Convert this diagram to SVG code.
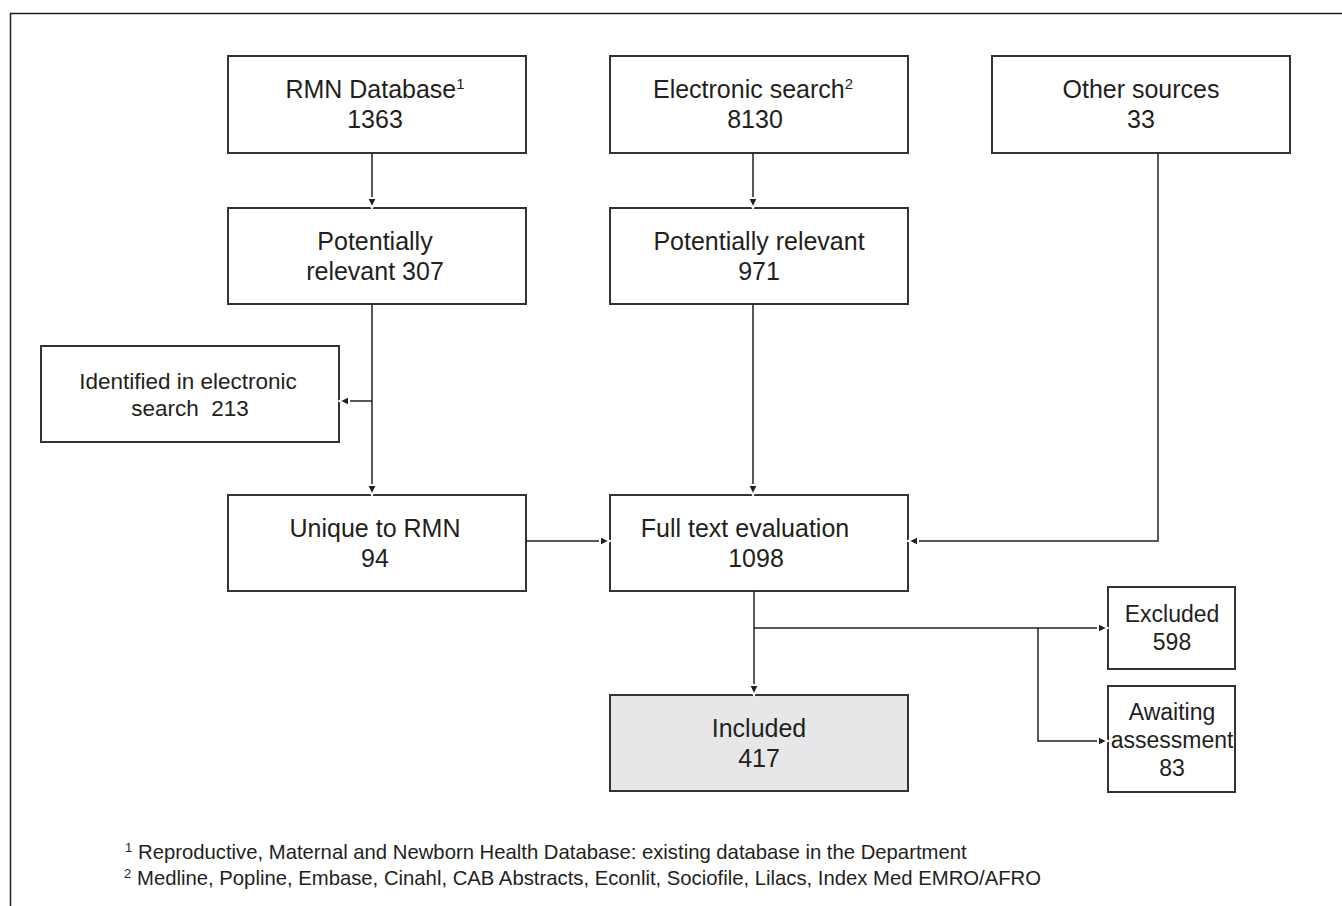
<svg xmlns="http://www.w3.org/2000/svg" width="1342" height="906" viewBox="0 0 1342 906">
<defs>
<style>
.box{fill:#fff;stroke:#333;stroke-width:2}
.inc{fill:#e6e7e8;stroke:#333;stroke-width:2}
.t{font-family:"Liberation Sans",Arial,sans-serif;font-size:25px;fill:#231f20;text-anchor:middle}
.s{font-size:22.5px}
.m{font-size:23px}
.fn{font-family:"Liberation Sans",Arial,sans-serif;font-size:20.3px;fill:#231f20}
.c{fill:none;stroke:#231f20;stroke-width:1.5}
</style>
<marker id="ah" viewBox="0 0 14 14" refX="12" refY="7" markerWidth="14" markerHeight="14" markerUnits="userSpaceOnUse" orient="auto">
<path d="M2,2 L12,7 L2,12 Z" fill="#231f20" stroke="#fff" stroke-width="2"/>
</marker>
</defs>
<rect width="1342" height="906" fill="#fff"/>
<path d="M10.5,906 V13.5 H1342" fill="none" stroke="#231f20" stroke-width="1.5"/>

<g id="rmn">
<rect class="box" x="228" y="56" width="298" height="97"/>
<text class="t" x="375" y="98">RMN Database<tspan font-size="15" dy="-9">1</tspan></text>
<text class="t" x="375" y="128">1363</text>
</g>
<g id="electronic">
<rect class="box" x="610" y="56" width="298" height="97"/>
<text class="t" x="753" y="98">Electronic search<tspan font-size="15" dy="-9">2</tspan></text>
<text class="t" x="755" y="128">8130</text>
</g>
<g id="other">
<rect class="box" x="992" y="56" width="298" height="97"/>
<text class="t" x="1141" y="98">Other sources</text>
<text class="t" x="1141" y="128">33</text>
</g>
<g id="pot307">
<rect class="box" x="228" y="208" width="298" height="96"/>
<text class="t" x="375" y="250">Potentially</text>
<text class="t" x="375" y="280">relevant 307</text>
</g>
<g id="pot971">
<rect class="box" x="610" y="208" width="298" height="96"/>
<text class="t" x="759" y="250">Potentially relevant</text>
<text class="t" x="759" y="280">971</text>
</g>
<g id="identified">
<rect class="box" x="41" y="346" width="298" height="96"/>
<text class="t s" x="188" y="389">Identified in electronic</text>
<text class="t s" x="190" y="416">search&#160; 213</text>
</g>
<g id="unique">
<rect class="box" x="228" y="495" width="298" height="96"/>
<text class="t" x="375" y="537">Unique to RMN</text>
<text class="t" x="375" y="567">94</text>
</g>
<g id="fulltext">
<rect class="box" x="610" y="495" width="298" height="96"/>
<text class="t" x="745" y="537">Full text evaluation</text>
<text class="t" x="756" y="567">1098</text>
</g>
<g id="included">
<rect class="inc" x="610" y="695" width="298" height="96"/>
<text class="t" x="759" y="737">Included</text>
<text class="t" x="759" y="767">417</text>
</g>
<g id="excluded">
<rect class="box" x="1108" y="587" width="127" height="82"/>
<text class="t m" x="1172" y="622">Excluded</text>
<text class="t m" x="1172" y="650">598</text>
</g>
<g id="awaiting">
<rect class="box" x="1108" y="686" width="127" height="106"/>
<text class="t m" x="1172" y="720">Awaiting</text>
<text class="t m" x="1172" y="748">assessment</text>
<text class="t m" x="1172" y="776">83</text>
</g>

<g id="connectors">
<path class="c" d="M372,153 V208" marker-end="url(#ah)"/>
<path class="c" d="M753,153 V208" marker-end="url(#ah)"/>
<path class="c" d="M372,304 V495" marker-end="url(#ah)"/>
<path class="c" d="M372,401 H339" marker-end="url(#ah)"/>
<path class="c" d="M753,304 V495" marker-end="url(#ah)"/>
<path class="c" d="M1158,153 V541 H908" marker-end="url(#ah)"/>
<path class="c" d="M526,541 H610" marker-end="url(#ah)"/>
<path class="c" d="M754,591 V695" marker-end="url(#ah)"/>
<path class="c" d="M754,628 H1108" marker-end="url(#ah)"/>
<path class="c" d="M1038,628 V741 H1108" marker-end="url(#ah)"/>
</g>

<g id="footnotes">
<text class="fn" x="125" y="859"><tspan font-size="13" dy="-7">1</tspan><tspan dy="7" x="138">Reproductive, Maternal and Newborn Health Database: existing database in the Department</tspan></text>
<text class="fn" x="124" y="885"><tspan font-size="13" dy="-7">2</tspan><tspan dy="7" x="137">Medline, Popline, Embase, Cinahl, CAB Abstracts, Econlit, Sociofile, Lilacs, Index Med EMRO/AFRO</tspan></text>
</g>
</svg>
